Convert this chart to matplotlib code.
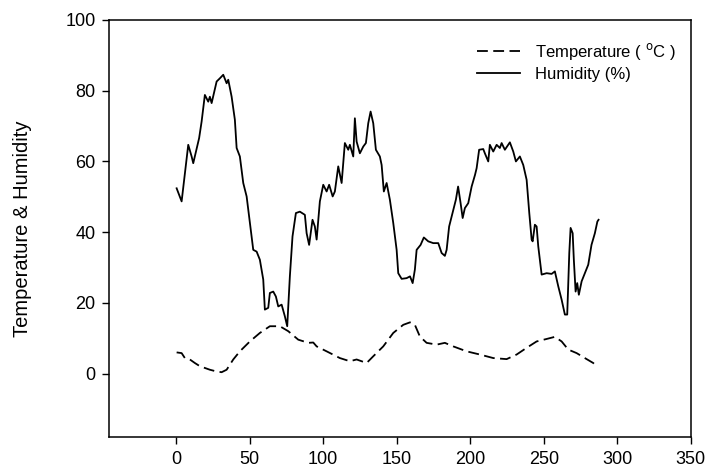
import numpy as np
import matplotlib
matplotlib.use('Agg')
import matplotlib.pyplot as plt

plt.rcParams['font.family'] = ['Liberation Sans', 'DejaVu Sans']

# humidity trace
hum_x = [0.3, 3.7, 8.2, 10.5, 11.6, 15.6, 17.3, 19.5, 21.8, 22.9, 24.1, 27.5, 29.7, 32, 34.3,
         35.4, 37.7, 39.9, 41.1, 43.3, 45.6, 47.9, 50.1, 52.4, 54.7, 56.9, 59.2, 60.3, 62.6,
         63.7, 66, 67.8, 69.4, 71.7, 73.9, 75.5, 77.3, 79.1, 81.4, 84.1, 87.5, 88.7, 90.4,
         92.7, 94.3, 95.5, 97.7, 100, 102.3, 104, 106.4, 107.9, 110.2, 112.5, 114.7, 117,
         118.1, 120.4, 121.5, 122.7, 124.9, 127.2, 129, 130.6, 132.2, 134, 135.8, 138.5,
         139.7, 141.2, 143.1, 145.3, 147.6, 149.9, 151, 153.3, 156.7, 159, 160.8, 162.3,
         163.5, 166.2, 168.4, 171.4, 174.8, 178.2, 180.5, 182.7, 183.9, 185.6, 187.9, 190.2,
         191.7, 193.4, 194.8, 196.3, 198.6, 200.9, 203.2, 204.3, 206, 208.8, 209.9, 212.2,
         213.3, 215.6, 217.9, 220.1, 221.3, 223.5, 226.9, 229.2, 231, 233.7, 236, 238.3,
         240.1, 241.7, 242.4, 243.9, 245.1, 246.2, 248.5, 251.9, 255.3, 257.5, 259.8, 262.1,
         264.3, 265.9, 267.3, 268.2, 269.6, 270.4, 271.6, 272.7, 273.8, 275.7, 277.9, 280.2,
         282.4, 284.7, 286.4, 287.2]
hum_y = [52.4, 48.7, 64.7, 61.4, 59.5, 66.6, 71.3, 78.8, 76.9, 78.3, 76.5, 82.6, 83.5, 84.5, 82.1,
         83.1, 78.3, 71.8, 63.8, 61.4, 53.9, 50.1, 42.6, 35.0, 34.5, 32.2, 26.6, 18.1, 18.6,
         22.8, 23.2, 21.8, 19.0, 19.5, 16.2, 13.4, 27.5, 38.8, 45.4, 45.8, 44.9, 39.7, 36.4,
         43.5, 41.6, 37.9, 48.7, 53.4, 51.5, 53.4, 50.1, 51.5, 58.6, 53.9, 65.2, 63.3,
         64.7, 61.4, 72.2, 65.6, 62.3, 64.2, 65.2, 70.8, 74.1, 70.8, 63.3, 61.4,
         59.0, 51.5, 53.9, 49.2, 42.6, 35.0, 28.4, 26.8, 27.0, 27.5, 25.6, 29.4,
         35.0, 36.4, 38.5, 37.4, 36.9, 36.9, 34.1, 33.3, 35.0, 41.6, 45.4, 49.2,
         52.9, 48.2, 44.0, 46.8, 48.2, 52.9, 56.2, 58.1, 63.3, 63.5, 62.3, 60.0,
         64.7, 62.8, 64.7, 63.8, 65.2, 63.3, 65.4, 62.8, 60.0, 61.4, 59.0, 54.8,
         45.4, 37.9, 37.4, 42.1, 41.6, 36.0, 28.0, 28.4, 28.2, 28.9, 24.7, 20.9,
         16.7, 16.7, 34.1, 41.2, 39.7, 32.2, 23.2, 25.6, 22.3, 26.1, 28.4, 30.8,
         36.4, 39.7, 43.0, 43.5]

# temperature trace
temp_x = [0.3, 3.7, 5.9, 9.3, 12.7, 16.1, 19.5, 22.9, 27.5, 30.9, 34.3, 38.8, 43.3, 50.1, 56.9,
          63.7, 70.5, 76.2, 83, 89.8, 93.2, 95.5, 102.3, 111.3, 118.1, 122.7, 129.5, 134,
          140.8, 147.6, 154.4, 159, 162.3, 165.7, 170.3, 177.1, 182.7, 188.4, 197.5, 206.5,
          215.6, 224.7, 231.5, 238.3, 245.1, 251.9, 257.5, 262.1, 266.6, 272.3, 279.1,
          283.6, 285.9]
temp_y = [6.0, 5.8, 4.4, 4.0, 3.0, 2.1, 1.6, 1.1, 0.6, 0.4, 1.1, 4.0, 6.3, 9.1, 11.5,
          13.4, 13.4, 12.0, 9.6, 8.7, 8.8, 7.7, 6.3, 4.4, 3.5, 4.0, 3.0, 4.9,
          7.7, 11.5, 13.8, 14.5, 13.8, 10.5, 8.7, 8.2, 8.7, 7.7, 6.3, 5.4,
          4.4, 4.1, 5.4, 7.3, 9.1, 9.8, 10.4, 9.1, 6.8, 5.8, 4.1,
          3.0, 2.1]

x_ticks = [0, 50, 100, 150, 200, 250, 300, 350]
y_ticks = [0, 20, 40, 60, 80, 100]

fig = plt.figure(figsize=(7.05, 4.71), dpi=100)
ax = fig.add_axes([0.155, 0.0716, 0.825, 0.886])

ax.plot(temp_x, temp_y, color='black', lw=1.3, ls=(0, (6, 3)), label=r'Temperature ( $^{\rm o}$C )')
ax.plot(hum_x, hum_y, color='black', lw=1.3, label='Humidity (%)')

ax.set_xlim(-45.5, 350)
ax.set_ylim(-18, 100)
ax.set_xticks(x_ticks)
ax.set_yticks(y_ticks)
ax.tick_params(direction='out', length=5, width=1, labelsize=13, pad=5)
for s in ax.spines.values():
    s.set_linewidth(1.1)
ax.set_ylabel('Temperature & Humidity', fontsize=14.5, labelpad=24)

ax.legend(loc='upper left', bbox_to_anchor=(477 / 705, 1 - 41 / 471), bbox_transform=fig.transFigure,
          frameon=False, fontsize=12, handlelength=2.6, handletextpad=0.9,
          labelspacing=0.3, borderpad=0, borderaxespad=0)

fig.savefig('out.png', dpi=100)
